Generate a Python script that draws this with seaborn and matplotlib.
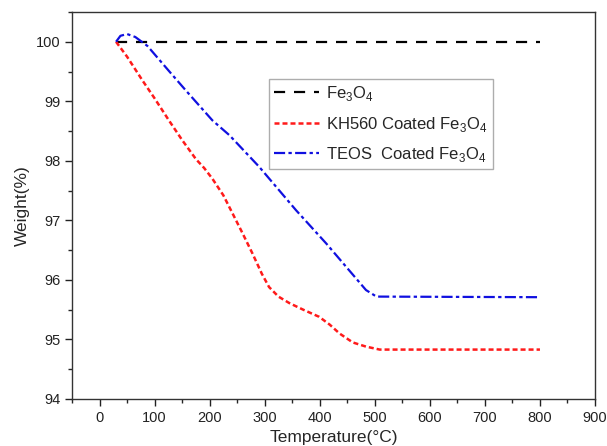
import numpy as np
import pandas as pd
import matplotlib
matplotlib.use("Agg")
import matplotlib.pyplot as plt
import seaborn as sns
from matplotlib.ticker import MultipleLocator

sns.set_style("ticks")
plt.rcParams['font.family'] = ['Liberation Sans', 'DejaVu Sans']
plt.rcParams['mathtext.fontset'] = 'custom'
plt.rcParams['mathtext.rm'] = 'Liberation Sans'

# Data
fe_T = [30, 800]
fe_W = [100.0, 100.0]

kh_T = [30, 50, 78, 100, 126, 150, 175, 190, 205, 225, 242, 260, 278, 295, 308, 325, 345, 370, 399, 418, 436, 460, 484, 509, 800]
kh_W = [100.0, 99.75, 99.35, 99.05, 98.68, 98.35, 98.03, 97.88, 97.7, 97.42, 97.11, 96.78, 96.44, 96.1, 95.88, 95.72, 95.61, 95.5, 95.38, 95.25, 95.1, 94.95, 94.88, 94.83, 94.83]

te_T = [30, 38, 50, 65, 87, 126, 157, 205, 236, 290, 357, 412, 484, 503, 800]
te_W = [100.0, 100.1, 100.13, 100.08, 99.93, 99.51, 99.18, 98.68, 98.43, 97.9, 97.17, 96.61, 95.83, 95.72, 95.71]

labels = ["Fe$_3$O$_4$", "KH560 Coated Fe$_3$O$_4$", "TEOS  Coated Fe$_3$O$_4$"]

fig = plt.figure(figsize=(6.07, 4.46), dpi=100)
ax = fig.add_axes([72/607, 1-399/446, (595-72)/607, (399-12)/446])

sns.lineplot(x=fe_T, y=fe_W, ax=ax, color="black", linestyle=(0, (5, 4)), lw=1.6, label=labels[0])
sns.lineplot(x=kh_T, y=kh_W, ax=ax, color="#ff1a1a", linestyle=(0, (2, 1.2)), lw=1.8, label=labels[1])
sns.lineplot(x=te_T, y=te_W, ax=ax, color="#1010e0", linestyle=(0, (5, 1.5, 1.5, 1.5)), lw=1.6, label=labels[2])

ax.set_xlim(-50, 900)
ax.set_ylim(94, 100.5)
ax.xaxis.set_major_locator(MultipleLocator(100))
ax.xaxis.set_minor_locator(MultipleLocator(50))
ax.yaxis.set_major_locator(MultipleLocator(1))
ax.yaxis.set_minor_locator(MultipleLocator(0.5))
ax.tick_params(which='major', direction='out', length=5, width=1, labelsize=10.5, colors='#222222')
ax.tick_params(which='minor', direction='out', length=3, width=1)
for s in ax.spines.values():
    s.set_linewidth(1.0)
    s.set_color('#333333')
ax.set_xlabel("Temperature(°C)", fontsize=12.5, labelpad=4)
ax.set_ylabel("Weight(%)", fontsize=12.5, labelpad=4)

leg = ax.legend(loc='upper left', bbox_to_anchor=(0.368, 0.84), fontsize=12,
                frameon=True, fancybox=False, edgecolor='#999999', handlelength=2.7,
                handletextpad=0.4, borderpad=0.3, labelspacing=0.7, borderaxespad=0.3)
leg.get_frame().set_linewidth(1.0)

fig.savefig("out.png", dpi=100)
